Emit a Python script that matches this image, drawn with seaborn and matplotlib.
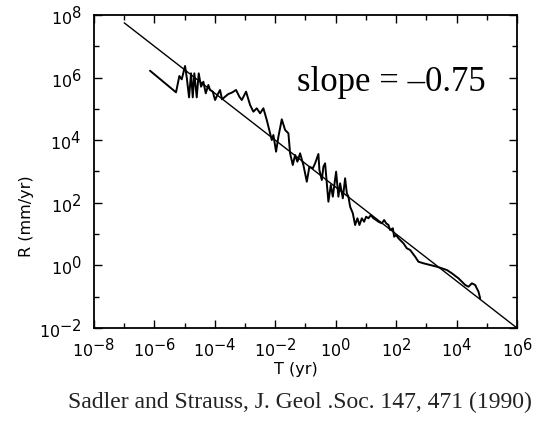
import numpy as np
import matplotlib
matplotlib.use("Agg")
import matplotlib.pyplot as plt
import matplotlib._mathtext as _mt
import seaborn as sns
import pandas as pd
from matplotlib.ticker import FixedLocator, NullFormatter

# ---- data (log10 exponents) ----
log_T = [-6.146, -5.285, -5.175, -5.096, -4.987, -4.931, -4.854, -4.788, -4.732, -4.679,
         -4.600, -4.534, -4.457, -4.381, -4.301, -4.215, -4.159, -4.070, -3.993, -3.917,
         -3.828, -3.762, -3.662, -3.553, -3.441, -3.298, -3.189, -3.109, -2.967, -2.834,
         -2.725, -2.613, -2.503, -2.394, -2.282, -2.172, -2.116, -2.063, -1.974, -1.897,
         -1.785, -1.675, -1.566, -1.510, -1.421, -1.344, -1.268, -1.179, -1.070, -0.957,
         -0.871, -0.758, -0.682, -0.573, -0.540, -0.460, -0.407, -0.351, -0.295, -0.242,
         -0.162, -0.096, -0.053, 0.013, 0.089, 0.146, 0.235, 0.311, 0.368, 0.421,
         0.477, 0.566, 0.642, 0.719, 0.785, 0.864, 0.940, 1.007, 1.083, 1.162,
         1.248, 1.338, 1.414, 1.526, 1.603, 1.669, 1.745, 1.801, 1.891, 1.934,
         2.000, 2.076, 2.132, 2.242, 2.354, 2.464, 2.629, 2.738, 2.904, 3.126,
         3.348, 3.513, 3.679, 3.844, 4.063, 4.285, 4.394, 4.507, 4.616, 4.725, 4.781]
log_R = [6.220, 5.530, 6.051, 5.945, 6.371, 6.009, 5.369, 6.137, 5.369, 6.137,
         5.369, 6.137, 5.710, 5.869, 5.498, 5.764, 5.604, 5.551, 5.284, 5.444,
         5.604, 5.306, 5.390, 5.476, 5.518, 5.604, 5.390, 5.284, 5.551, 5.125,
         4.911, 5.019, 4.859, 5.019, 4.645, 4.220, 4.006, 4.166, 3.633, 4.112,
         4.667, 4.326, 4.220, 3.581, 3.208, 3.527, 3.313, 3.581, 3.208, 2.674,
         3.153, 3.102, 3.262, 3.560, 3.048, 2.728, 3.153, 3.262, 2.623, 2.035,
         2.569, 2.195, 2.514, 2.994, 2.195, 2.623, 2.144, 2.783, 2.304, 2.195,
         1.875, 1.665, 1.291, 1.505, 1.291, 1.505, 1.396, 1.556, 1.505, 1.610,
         1.505, 1.450, 1.396, 1.345, 1.450, 1.345, 1.291, 1.131, 1.185, 0.917,
         0.971, 0.866, 0.812, 0.706, 0.546, 0.492, 0.278, 0.118, 0.067, 0.013,
         -0.042, -0.093, -0.147, -0.252, -0.412, -0.626, -0.681, -0.572, -0.626, -0.840, -1.051]

fit_T = [1e-7, 1e6]
fit_R = [10 ** 7.75, 1e-2]

x_ticks = [1e-8, 1e-6, 1e-4, 1e-2, 1e0, 1e2, 1e4, 1e6]
x_labels = ["-8", "-6", "-4", "-2", "0", "2", "4", "6"]
y_ticks = [1e-2, 1e0, 1e2, 1e4, 1e6, 1e8]
y_labels = ["-2", "0", "2", "4", "6", "8"]

slope_text = "slope = \u20130.75"
caption = "Sadler and Strauss, J. Geol .Soc. 147, 471 (1990)"

# ---- style ----
sns.set_theme(style="white")
plt.rcParams['font.family'] = ['DejaVu Sans']
plt.rcParams['mathtext.fontset'] = 'dejavusans'
plt.rcParams['mathtext.default'] = 'regular'
# superscripts nearly as large as the base, as in the reference
_mt.SHRINK_FACTOR = 0.92

fig = plt.figure(figsize=(5.36, 4.23), dpi=100)
ax = fig.add_axes([94 / 536, 1 - 328 / 423, (517 - 94) / 536, (328 - 15) / 423])

df = pd.DataFrame({"T": np.power(10.0, log_T), "R": np.power(10.0, log_R)})
fit = pd.DataFrame({"T": fit_T, "R": fit_R})

ax.set_xscale("log")
ax.set_yscale("log")
sns.lineplot(data=fit, x="T", y="R", ax=ax, color="black", linewidth=1.0, sort=False)
sns.lineplot(data=df, x="T", y="R", ax=ax, color="black", linewidth=1.4, sort=False)

ax.set_xlim(1e-8, 1e6)
ax.set_ylim(1e-2, 1e8)

ax.xaxis.set_major_locator(FixedLocator(x_ticks))
ax.set_xticklabels([r"$10^{%s}$" % s.replace("-", "\u2212") for s in x_labels])
ax.yaxis.set_major_locator(FixedLocator(y_ticks))
ax.set_yticklabels([r"$10^{%s}$" % s.replace("-", "\u2212") for s in y_labels])
ax.xaxis.set_minor_locator(FixedLocator([10.0 ** k for k in range(-7, 6, 2)]))
ax.yaxis.set_minor_locator(FixedLocator([10.0 ** k for k in range(-1, 8, 2)]))
ax.xaxis.set_minor_formatter(NullFormatter())
ax.yaxis.set_minor_formatter(NullFormatter())

ax.tick_params(which="both", direction="in", top=True, right=True, bottom=True, left=True,
               color="black", width=1.0, labelsize=11.5, labelcolor="black")
ax.tick_params(which="major", length=6)
ax.tick_params(which="minor", length=3.5)
ax.tick_params(axis="y", pad=9)
ax.tick_params(axis="x", pad=6)

for sp in ax.spines.values():
    sp.set_visible(True)
    sp.set_color("black")
    sp.set_linewidth(1.3)

ax.set_xlabel("")
ax.set_ylabel("")
fig.text(296 / 536, 1 - 369 / 423, "T (yr)", ha="center", va="center", fontsize=11.5, color="black")
fig.text(27 / 536, 1 - 216 / 423, "R (mm/yr)", ha="center", va="center", rotation=90,
         fontsize=11.5, color="black")

fig.text(391 / 536, 1 - 82 / 423, slope_text, ha="center", va="center",
         fontsize=25, family=["Liberation Serif", "DejaVu Serif"], color="black")
fig.text(300 / 536, 1 - 402 / 423, caption, ha="center", va="center", fontsize=17,
         family=["Liberation Serif", "DejaVu Serif"], color="#222222")

fig.savefig("out.png", dpi=100)
